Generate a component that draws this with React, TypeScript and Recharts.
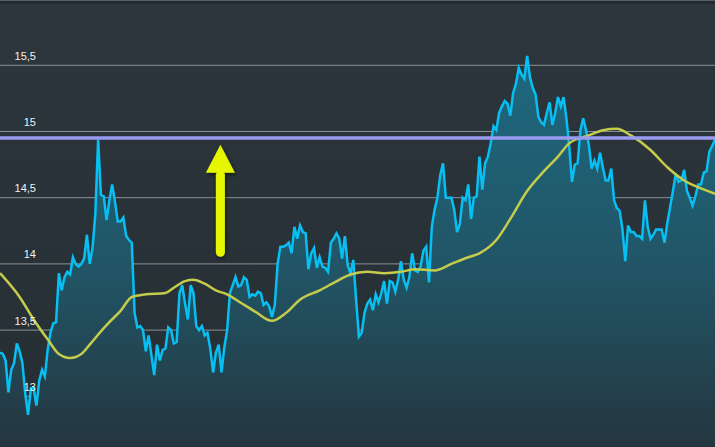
import { ComposedChart, Area, Line, XAxis, YAxis, CartesianGrid, ReferenceLine, ReferenceDot } from 'recharts';

// closing prices left to right
const prices = [
  13.33, 13.32, 13.27, 13.03, 13.2, 13.25, 13.4, 13.34, 13.25, 13.02, 12.86, 13.06, 13.06, 12.93, 13.12, 13.2, 13.15, 13.35, 13.48, 13.55, 13.56,
  13.93, 13.8, 13.9, 13.94, 13.92, 14.05, 14.0, 13.98, 14.0, 14.04, 14.22, 14.0, 14.12, 14.38, 14.94, 14.52, 14.51, 14.33, 14.48, 14.6, 14.47, 14.32,
  14.32, 14.35, 14.21, 14.18, 14.16, 13.63, 13.52, 13.53, 13.5, 13.34, 13.46, 13.31, 13.16, 13.39, 13.27, 13.35, 13.36, 13.52, 13.5, 13.4, 13.41,
  13.78, 13.84, 13.7, 13.58, 13.84, 13.78, 13.53, 13.5, 13.53, 13.46, 13.48, 13.36, 13.18, 13.33, 13.39, 13.18, 13.37, 13.5, 13.78, 13.84, 13.9, 13.83,
  13.84, 13.9, 13.88, 13.75, 13.77, 13.76, 13.79, 13.78, 13.69, 13.71, 13.68, 13.6, 13.69, 14.0, 14.13, 14.13, 14.14, 14.16, 14.08, 14.28, 14.19,
  14.29, 14.24, 14.23, 13.96, 14.08, 14.12, 13.97, 14.05, 13.98, 13.97, 13.94, 14.16, 14.19, 14.23, 14.19, 14.04, 14.21, 13.99, 13.93, 14.03, 13.73, 13.45,
  13.48, 13.63, 13.7, 13.73, 13.65, 13.77, 13.71, 13.78, 13.87, 13.7, 13.87, 13.86, 13.79, 13.88, 14.02, 13.88, 13.82, 13.9, 14.08, 13.95, 13.94,
  13.98, 14.1, 14.13, 13.86, 14.28, 14.41, 14.5, 14.67, 14.76, 14.5, 14.5, 14.5, 14.41, 14.24, 14.3, 14.5, 14.48, 14.6, 14.34, 14.5, 14.51, 14.81,
  14.56, 14.76, 14.81, 14.91, 15.04, 15.01, 15.14, 15.19, 15.23, 15.21, 15.12, 15.29, 15.36, 15.48, 15.43, 15.4, 15.57, 15.41, 15.33, 15.28, 15.11,
  15.07, 15.05, 15.14, 15.22, 15.05, 15.14, 15.26, 15.19, 15.26, 15.1, 14.89, 14.62, 14.75, 14.76, 15.01, 15.1, 15.01, 14.9, 14.72, 14.78, 14.72,
  14.84, 14.73, 14.63, 14.63, 14.72, 14.48, 14.42, 14.4, 14.26, 14.02, 14.29, 14.24, 14.24, 14.21, 14.21, 14.19, 14.48, 14.28, 14.19, 14.22, 14.26,
  14.26, 14.26, 14.16, 14.31, 14.43, 14.55, 14.68, 14.62, 14.63, 14.71, 14.55, 14.5, 14.44, 14.51, 14.6, 14.6, 14.69, 14.7, 14.85, 14.89, 14.94,
];

// moving average, read at a few points (index -> value), the rest is drawn through them
const maIndex = [0, 7, 12, 17, 21, 25, 29, 32, 36, 39, 43, 47, 52, 59, 62, 66, 69, 73, 77, 81, 86, 91, 97, 102, 107, 114, 121, 125, 131, 137,
  143, 148, 155, 161, 167, 171, 177, 182, 188, 194, 199, 203, 210, 215, 220, 225, 232, 238, 244, 250, 255];
const maValues = [13.93, 13.75, 13.58, 13.43, 13.32, 13.29, 13.32, 13.39, 13.49, 13.56, 13.645, 13.75, 13.77, 13.78, 13.82, 13.87, 13.88, 13.85,
  13.8, 13.77, 13.705, 13.64, 13.57, 13.63, 13.73, 13.8, 13.88, 13.92, 13.94, 13.93, 13.94, 13.96, 13.95, 14.0, 14.05, 14.08, 14.18, 14.34,
  14.55, 14.7, 14.81, 14.91, 14.97, 15.01, 15.02, 14.97, 14.86, 14.73, 14.63, 14.57, 14.53];

const yTicks = [13, 13.5, 14, 14.5, 15, 15.5];
const levelLine = 14.95;
const arrowAt = { i: 78.6, v: 14.9 };

const data = prices.map((price, i) => {
  const k = maIndex.indexOf(i);
  return { i, price, ma: k >= 0 ? maValues[k] : null };
});

const YTick = (props: any) => {
  const { y, payload } = props;
  return (
    <text x={36} y={y - 5.5} textAnchor="end" fill="#eef2f5" fontSize={11} fontFamily="Liberation Sans, Arial, sans-serif">
      {String(payload.value).replace('.', ',')}
    </text>
  );
};

const Arrow = (props: any) => {
  const { cx, cy } = props;
  return (
    <g filter="url(#arrowShadow)">
      <polygon points={`${cx},${cy} ${cx - 14.5},${cy + 28} ${cx + 14.5},${cy + 28}`} fill="#e6f500" />
      <rect x={cx - 4.5} y={cy + 26} width={9} height={86} rx={4.5} fill="#e6f500" />
    </g>
  );
};

export default function App() {
  return (
    <div style={{ position: 'fixed', left: 0, top: 0, width: 715, height: 447, background: 'linear-gradient(#2c363c, #252e33)' }}>
      <div style={{ position: 'absolute', left: 0, top: 0, width: 715, height: 4, background: '#242b30' }} />
      <ComposedChart width={715} height={447} data={data} margin={{ top: 0, right: 0, bottom: 0, left: 0 }}>
        <defs>
          <linearGradient id="areaFill" x1="0" y1="50" x2="0" y2="447" gradientUnits="userSpaceOnUse">
            <stop offset="0%" stopColor="#1e6980" />
            <stop offset="55%" stopColor="#215566" />
            <stop offset="100%" stopColor="#24363f" />
          </linearGradient>
          <filter id="arrowShadow" x="-50%" y="-20%" width="200%" height="140%">
            <feDropShadow dx="1" dy="2" stdDeviation="2" floodColor="#000" floodOpacity="0.5" />
          </filter>
        </defs>
        <CartesianGrid vertical={false} stroke="#8a9398" strokeWidth={1} />
        <XAxis dataKey="i" type="number" domain={[0, prices.length - 1]} hide />
        <YAxis
          domain={[12.617, 15.993]}
          ticks={yTicks}
          width={40}
          mirror
          axisLine={false}
          tickLine={false}
          tick={YTick}
          allowDataOverflow
          interval={0}
        />
        <Area
          type="linear"
          dataKey="price"
          stroke="#07bff2"
          strokeWidth={2.5}
          fill="url(#areaFill)"
          fillOpacity={1}
          isAnimationActive={false}
          dot={false}
          activeDot={false}
        />
        <Line
          type="monotone"
          dataKey="ma"
          stroke="#c5cc4c"
          strokeWidth={2.5}
          dot={false}
          connectNulls
          isAnimationActive={false}
          activeDot={false}
        />
        <ReferenceLine y={levelLine} stroke="#9a9bf0" strokeWidth={3.5} />
        <ReferenceDot x={arrowAt.i} y={arrowAt.v} r={1} shape={<Arrow />} />
      </ComposedChart>
    </div>
  );
}
